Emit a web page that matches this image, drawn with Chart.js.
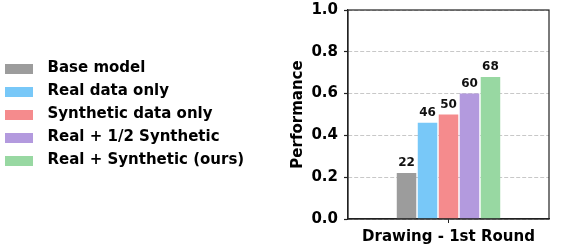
<!DOCTYPE html>
<html><head><meta charset="utf-8">
<script src="https://cdn.jsdelivr.net/npm/chart.js@4"></script>
<style>html,body{margin:0;padding:0;background:#fff}#wrap{width:564px;height:250px}</style>
</head><body><div id="wrap"><canvas id="c" width="564" height="250"></canvas></div>
<script>
const categories = ['Drawing - 1st Round'];
const seriesNames = ['Base model', 'Real data only', 'Synthetic data only', 'Real + 1/2 Synthetic', 'Real + Synthetic (ours)'];
const seriesValues = [[0.22], [0.46], [0.50], [0.60], [0.68]];
const seriesLabels = ['22', '46', '50', '60', '68'];
const seriesColors = ['#9c9c9c', '#78c8f8', '#f58b8d', '#b39ade', '#98d8a2'];
const yTicks = [0, 0.2, 0.4, 0.6, 0.8, 1.0];

const FONT = 'DejaVu Sans';
const FS = 15;
const PLOT_LEFT = 348;
const PAD_LEFT = -3;

function swatch(color) {
  const c = document.createElement('canvas');
  c.width = 35; c.height = 10;
  const g = c.getContext('2d');
  g.fillStyle = color;
  g.fillRect(0, 0, 28, 10);
  return c;
}
const swatches = seriesColors.map(swatch);

const boxPlugin = {
  id: 'boxPlugin',
  afterDatasetsDraw(chart) {
    const ctx = chart.ctx;
    ctx.save();
    ctx.font = 'bold 12px "' + FONT + '"';
    ctx.fillStyle = '#111';
    ctx.textAlign = 'center';
    ctx.textBaseline = 'bottom';
    chart.data.datasets.forEach((ds, i) => {
      const meta = chart.getDatasetMeta(i);
      meta.data.forEach((bar) => {
        ctx.fillText(seriesLabels[i], bar.x, bar.y - 4);
      });
    });
    ctx.restore();
  },
  afterDraw(chart) {
    const a = chart.chartArea;
    const ctx = chart.ctx;
    ctx.save();
    ctx.strokeStyle = '#222';
    ctx.lineWidth = 1.2;
    ctx.setLineDash([]);
    ctx.strokeRect(a.left, a.top, a.right - a.left, a.bottom - a.top);
    ctx.restore();
  }
};

new Chart(document.getElementById('c'), {
  type: 'bar',
  data: {
    labels: categories,
    datasets: seriesNames.map((n, i) => ({
      label: n,
      data: seriesValues[i],
      backgroundColor: seriesColors[i],
      borderWidth: 0,
      categoryPercentage: 0.522,
      barPercentage: 0.93
    }))
  },
  options: {
    responsive: false,
    animation: false,
    layout: { padding: { left: PAD_LEFT, right: 15, top: 10, bottom: 0 } },
    plugins: {
      tooltip: { enabled: false },
      legend: {
        position: 'left',
        fullSize: false,
        maxWidth: 300,
        labels: {
          usePointStyle: true,
          pointStyleWidth: 35,
          boxWidth: 35,
          boxHeight: 10,
          padding: 8,
          color: '#000',
          font: { family: FONT, size: FS, weight: 'bold' },
          generateLabels(chart) {
            const items = Chart.defaults.plugins.legend.labels.generateLabels(chart);
            items.forEach((it, i) => { it.pointStyle = swatches[i]; });
            return items;
          }
        }
      }
    },
    scales: {
      x: {
        afterFit(scale) { scale.height = 31; scale.paddingLeft = 0; scale.paddingRight = 0; },
        grid: { display: true, drawOnChartArea: false, drawTicks: true, tickLength: 4, offset: false, color: '#222', tickColor: '#222' },
        border: { display: true, color: '#222', width: 1.2 },
        ticks: { color: '#000', padding: 5, font: { family: FONT, size: FS, weight: 'bold' } }
      },
      y: {
        min: 0, max: 1.0,
        afterBuildTicks(scale) { scale.ticks = yTicks.map(v => ({ value: v })); },
        afterFit(scale) {
          const lg = scale.chart.legend;
          const lw = lg && lg.width ? lg.width : 250;
          scale.width = PLOT_LEFT - lw - PAD_LEFT;
          scale.paddingTop = 0;
          scale.paddingBottom = 0;
        },
        grid: { color: '#c8c8c8', lineWidth: 1, tickLength: 4, tickColor: '#222', tickWidth: 1.2 },
        border: { display: true, color: '#222', width: 1.2, dash: [4, 2] },
        title: { display: true, text: 'Performance', color: '#000', padding: { top: 35, bottom: 0 }, font: { family: FONT, size: FS, weight: 'bold' } },
        ticks: { color: '#000', padding: 6, font: { family: FONT, size: FS, weight: 'bold' }, callback: v => Number(v).toFixed(1) }
      }
    }
  },
  plugins: [boxPlugin]
});
</script></body></html>
